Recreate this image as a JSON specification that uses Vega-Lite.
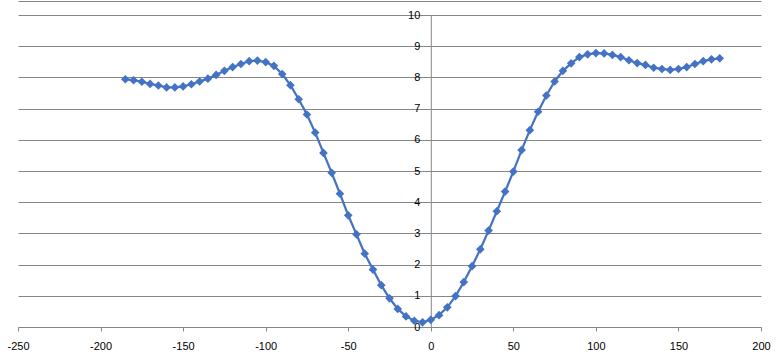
{
  "$schema": "https://vega.github.io/schema/vega-lite/v6.json",
  "width": 743,
  "height": 312,
  "autosize": {"type": "none"},
  "padding": {"left": 18, "top": 15, "right": 18, "bottom": 33},
  "background": "white",
  "config": {
    "view": {"stroke": null},
    "axis": {"labelFont": "Liberation Sans", "labelFontSize": 11, "labelColor": "#000000", "domainColor": "#868686", "tickColor": "#868686", "gridColor": "#868686", "gridOpacity": 1, "domainWidth": 1, "tickWidth": 1, "gridWidth": 1}
  },
  "data": {"values": [
    {"x": -185, "y": 7.94}, {"x": -180, "y": 7.91}, {"x": -175, "y": 7.86}, {"x": -170, "y": 7.79},
    {"x": -165, "y": 7.74}, {"x": -160, "y": 7.68}, {"x": -155, "y": 7.68}, {"x": -150, "y": 7.71},
    {"x": -145, "y": 7.78}, {"x": -140, "y": 7.87}, {"x": -135, "y": 7.96}, {"x": -130, "y": 8.08},
    {"x": -125, "y": 8.21}, {"x": -120, "y": 8.33}, {"x": -115, "y": 8.43}, {"x": -110, "y": 8.52},
    {"x": -105, "y": 8.54}, {"x": -100, "y": 8.49}, {"x": -95, "y": 8.37}, {"x": -90, "y": 8.11},
    {"x": -85, "y": 7.75}, {"x": -80, "y": 7.30}, {"x": -75, "y": 6.81}, {"x": -70, "y": 6.23},
    {"x": -65, "y": 5.58}, {"x": -60, "y": 4.94}, {"x": -55, "y": 4.27}, {"x": -50, "y": 3.58},
    {"x": -45, "y": 2.97}, {"x": -40, "y": 2.35}, {"x": -35, "y": 1.84}, {"x": -30, "y": 1.34},
    {"x": -25, "y": 0.92}, {"x": -20, "y": 0.58}, {"x": -15, "y": 0.34}, {"x": -10, "y": 0.20},
    {"x": -5, "y": 0.15}, {"x": 0, "y": 0.23}, {"x": 5, "y": 0.38}, {"x": 10, "y": 0.63},
    {"x": 15, "y": 0.99}, {"x": 20, "y": 1.44}, {"x": 25, "y": 1.95}, {"x": 30, "y": 2.49},
    {"x": 35, "y": 3.09}, {"x": 40, "y": 3.71}, {"x": 45, "y": 4.34}, {"x": 50, "y": 4.98},
    {"x": 55, "y": 5.67}, {"x": 60, "y": 6.31}, {"x": 65, "y": 6.90}, {"x": 70, "y": 7.42},
    {"x": 75, "y": 7.87}, {"x": 80, "y": 8.21}, {"x": 85, "y": 8.45}, {"x": 90, "y": 8.65},
    {"x": 95, "y": 8.74}, {"x": 100, "y": 8.78}, {"x": 105, "y": 8.77}, {"x": 110, "y": 8.72},
    {"x": 115, "y": 8.65}, {"x": 120, "y": 8.55}, {"x": 125, "y": 8.46}, {"x": 130, "y": 8.40},
    {"x": 135, "y": 8.31}, {"x": 140, "y": 8.27}, {"x": 145, "y": 8.24}, {"x": 150, "y": 8.27},
    {"x": 155, "y": 8.33}, {"x": 160, "y": 8.43}, {"x": 165, "y": 8.52}, {"x": 170, "y": 8.58},
    {"x": 175, "y": 8.61}
  ]},
  "layer": [
    {
      "mark": {"type": "line", "color": "#4472C4", "strokeWidth": 2.25, "point": {"shape": "diamond", "size": 75, "filled": true, "color": "#4472C4", "opacity": 1}},
      "encoding": {
        "x": {"field": "x", "type": "quantitative", "title": null,
          "scale": {"domain": [-250, 200], "nice": false, "zero": false},
          "axis": {"orient": "bottom", "values": [-250, -200, -150, -100, -50, 0, 50, 100, 150, 200], "grid": false, "tickSize": 4, "labelPadding": 9, "labelExpr": "datum.value < 0 ? '-' + abs(datum.value) : '' + datum.value", "labelFlush": false, "labelOverlap": false}},
        "y": {"field": "y", "type": "quantitative", "title": null,
          "scale": {"domain": [0, 10], "nice": false},
          "axis": {"orient": "left", "offset": -412.8, "values": [0, 1, 2, 3, 4, 5, 6, 7, 8, 9, 10], "grid": true, "tickSize": 5, "labelPadding": 6, "labelOverlap": false, "labelFlush": false, "zindex": 0}}
      }
    },
    {
      "mark": {"type": "point", "opacity": 0},
      "encoding": {
        "x": {"field": "x", "type": "quantitative", "title": null,
          "axis": {"orient": "top", "offset": 14, "labels": false, "ticks": false, "grid": false}}
      }
    }
  ],
  "resolve": {"axis": {"x": "independent"}}
}
